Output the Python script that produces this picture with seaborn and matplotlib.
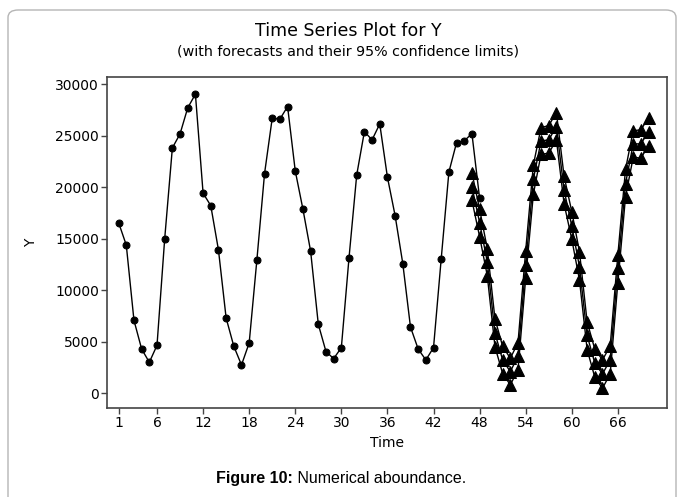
import numpy as np
import pandas as pd
import seaborn as sns
import matplotlib.pyplot as plt
from matplotlib.patches import FancyBboxPatch

# Observed series, t = 1..48
time_obs = list(range(1, 49))
y_obs = [16580, 14400, 7090, 4300, 3010, 4660, 15000, 23840, 25200, 27730,
         29060, 19440, 18230, 13930, 7310, 4570, 2750, 4890, 12930, 21340,
         26720, 26630, 27860, 21600, 17880, 13800, 6710, 4050, 3370, 4430,
         13180, 21210, 25420, 24620, 26170, 20990, 17260, 12600, 6440, 4300,
         3240, 4430, 13050, 21490, 24350, 24520, 25230, 18950]

# Forecasts with their 95% limits, t = 47..70
time_fc = list(range(47, 71))
forecast = [20080, 16580, 12760, 5850, 3240, 2100, 3620, 12470, 20800, 24520,
            24620, 25910, 19720, 16260, 12300, 5620, 2920, 1880, 3240, 12150,
            20380, 24230, 24230, 25430]
upper = [21440, 17880, 14050, 7230, 4560, 3400, 4920, 13860, 22190, 25810,
         26010, 27270, 21080, 17650, 13760, 6930, 4280, 3240, 4600, 13440,
         21770, 25520, 25590, 26790]
lower = [18750, 15220, 11430, 4530, 1910, 820, 2290, 11180, 19350, 23230,
         23320, 24620, 18400, 14970, 11010, 4250, 1550, 490, 1880, 10750,
         19110, 22940, 22840, 24070]

x_ticks = [1, 6, 12, 18, 24, 30, 36, 42, 48, 54, 60, 66]
y_ticks = [0, 5000, 10000, 15000, 20000, 25000, 30000]

sns.set_theme(style="white")
plt.rcParams['font.family'] = ['DejaVu Sans']
plt.rcParams['text.color'] = 'black'
plt.rcParams['axes.labelcolor'] = 'black'
plt.rcParams['xtick.color'] = 'black'
plt.rcParams['ytick.color'] = 'black'

fig = plt.figure(figsize=(6.83, 4.97), dpi=100)
ax = fig.add_axes([0.157, 0.1797, 0.8196, 0.6648])

obs_df = pd.DataFrame({"Time": time_obs, "Y": y_obs})
fc_df = pd.DataFrame({"Time": time_fc, "Forecast": forecast,
                      "Upper": upper, "Lower": lower})

for col in ["Upper", "Forecast", "Lower"]:
    sns.lineplot(data=fc_df, x="Time", y=col, ax=ax, color="black",
                 linewidth=1.0, marker="^", markersize=8,
                 markeredgecolor="black", markerfacecolor="black")

sns.lineplot(data=obs_df, x="Time", y="Y", ax=ax, color="black",
             linewidth=1.0, marker="o", markersize=5,
             markeredgecolor="black", markerfacecolor="black")

ax.set_xlim(-0.48, 72.4)
ax.set_ylim(-1400, 30700)
ax.set_xticks(x_ticks)
ax.set_yticks(y_ticks)
ax.set_xticklabels([str(v) for v in x_ticks], fontsize=10)
ax.set_yticklabels([str(v) for v in y_ticks], fontsize=10)
ax.tick_params(axis="both", direction="out", length=4, width=1,
               color="#444444", labelcolor="black", bottom=True, left=True,
               pad=2)
for sp in ax.spines.values():
    sp.set_color("#444444")
    sp.set_linewidth(1.2)

ax.set_xlabel("Time", fontsize=10, labelpad=4)
ax.set_ylabel("Y", fontsize=10, labelpad=12)

fig.text(0.51, 0.938, "Time Series Plot for Y", ha="center", va="center",
         fontsize=12.5)
fig.text(0.51, 0.897, "(with forecasts and their 95% confidence limits)",
         ha="center", va="center", fontsize=10.3)

# Caption: bold label followed by regular text, centred as one line
renderer = fig.canvas.get_renderer()
cap_bold = fig.text(0, 0.038, "Figure 10:", ha="left", va="center",
                    fontsize=11.5, fontweight="bold", family="Liberation Sans")
cap_rest = fig.text(0, 0.038, " Numerical aboundance.", ha="left", va="center",
                    fontsize=11.5, family="Liberation Sans")
w_bold = cap_bold.get_window_extent(renderer).width
w_rest = cap_rest.get_window_extent(renderer).width
fig_w = fig.get_figwidth() * fig.dpi
x0 = 0.5 - (w_bold + w_rest) / 2 / fig_w
cap_bold.set_x(x0)
cap_rest.set_x(x0 + w_bold / fig_w)

box = FancyBboxPatch((8 / 683, -0.2), 668 / 683, (487 / 497) + 0.2,
                     boxstyle="round,pad=0,rounding_size=0.015",
                     transform=fig.transFigure, facecolor="none",
                     edgecolor="#b5b5b5", linewidth=1.0)
fig.patches.append(box)

fig.savefig("out.png", dpi=100)
